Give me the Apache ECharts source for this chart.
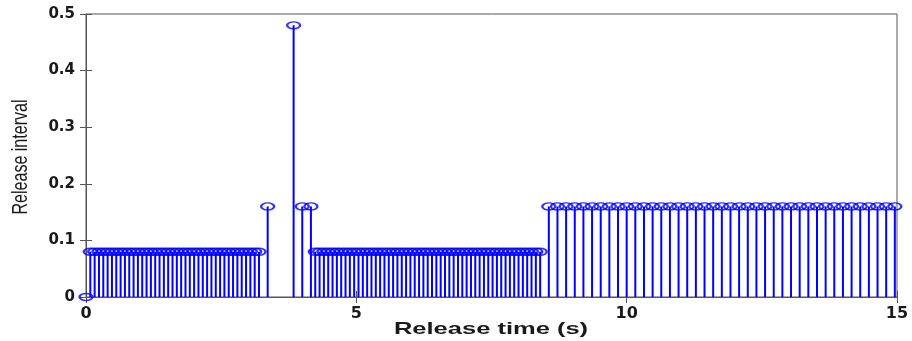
<!DOCTYPE html>
<html>
<head>
<meta charset="utf-8">
<script src="https://cdn.jsdelivr.net/npm/echarts@6/dist/echarts.min.js"></script>
<style>
  html, body { margin: 0; padding: 0; background: #fff; }
  #chart { width: 912px; height: 341px; }
</style>
</head>
<body>
<div id="chart"></div>
<script>
// release instants (s)
var releaseTime = [
  0,
  0.08, 0.16, 0.24, 0.32, 0.40, 0.48, 0.56, 0.64, 0.72, 0.80,
  0.88, 0.96, 1.04, 1.12, 1.20, 1.28, 1.36, 1.44, 1.52, 1.60,
  1.68, 1.76, 1.84, 1.92, 2.00, 2.08, 2.16, 2.24, 2.32, 2.40,
  2.48, 2.56, 2.64, 2.72, 2.80, 2.88, 2.96, 3.04, 3.12, 3.20,
  3.36, 3.84, 4.00, 4.16,
  4.24, 4.32, 4.40, 4.48, 4.56, 4.64, 4.72, 4.80, 4.88, 4.96,
  5.04, 5.12, 5.20, 5.28, 5.36, 5.44, 5.52, 5.60, 5.68, 5.76,
  5.84, 5.92, 6.00, 6.08, 6.16, 6.24, 6.32, 6.40, 6.48, 6.56,
  6.64, 6.72, 6.80, 6.88, 6.96, 7.04, 7.12, 7.20, 7.28, 7.36,
  7.44, 7.52, 7.60, 7.68, 7.76, 7.84, 7.92, 8.00, 8.08, 8.16,
  8.24, 8.32, 8.40,
  8.56, 8.72, 8.88, 9.04, 9.20, 9.36, 9.52, 9.68, 9.84, 10.00,
  10.16, 10.32, 10.48, 10.64, 10.80, 10.96, 11.12, 11.28, 11.44, 11.60,
  11.76, 11.92, 12.08, 12.24, 12.40, 12.56, 12.72, 12.88, 13.04, 13.20,
  13.36, 13.52, 13.68, 13.84, 14.00, 14.16, 14.32, 14.48, 14.64, 14.80,
  14.96
];

// interval to the previous release (s)
var releaseInterval = [
  0,
  0.08, 0.08, 0.08, 0.08, 0.08, 0.08, 0.08, 0.08, 0.08, 0.08,
  0.08, 0.08, 0.08, 0.08, 0.08, 0.08, 0.08, 0.08, 0.08, 0.08,
  0.08, 0.08, 0.08, 0.08, 0.08, 0.08, 0.08, 0.08, 0.08, 0.08,
  0.08, 0.08, 0.08, 0.08, 0.08, 0.08, 0.08, 0.08, 0.08, 0.08,
  0.16, 0.48, 0.16, 0.16,
  0.08, 0.08, 0.08, 0.08, 0.08, 0.08, 0.08, 0.08, 0.08, 0.08,
  0.08, 0.08, 0.08, 0.08, 0.08, 0.08, 0.08, 0.08, 0.08, 0.08,
  0.08, 0.08, 0.08, 0.08, 0.08, 0.08, 0.08, 0.08, 0.08, 0.08,
  0.08, 0.08, 0.08, 0.08, 0.08, 0.08, 0.08, 0.08, 0.08, 0.08,
  0.08, 0.08, 0.08, 0.08, 0.08, 0.08, 0.08, 0.08, 0.08, 0.08,
  0.08, 0.08, 0.08,
  0.16, 0.16, 0.16, 0.16, 0.16, 0.16, 0.16, 0.16, 0.16, 0.16,
  0.16, 0.16, 0.16, 0.16, 0.16, 0.16, 0.16, 0.16, 0.16, 0.16,
  0.16, 0.16, 0.16, 0.16, 0.16, 0.16, 0.16, 0.16, 0.16, 0.16,
  0.16, 0.16, 0.16, 0.16, 0.16, 0.16, 0.16, 0.16, 0.16, 0.16,
  0.16
];

var xTicks = [0, 5, 10, 15];
var yTicks = [0, 0.1, 0.2, 0.3, 0.4, 0.5];

var stemColor = '#0000ff';
var axisColor = '#555';
var textColor = '#1a1a1a';
var tickFont = 'DejaVu Sans';

var points = releaseTime.map(function (t, i) { return [t, releaseInterval[i]]; });

var chart = echarts.init(document.getElementById('chart'), null, { renderer: 'canvas' });

var hiddenAxis = {
  axisLine: { show: false },
  axisLabel: { show: false },
  splitLine: { show: false },
  axisTick: { show: true, inside: true, length: 6, lineStyle: { color: axisColor } }
};

chart.setOption({
  backgroundColor: '#fff',
  animation: false,
  grid: {
    left: 86, right: 15, top: 14, bottom: 44,
    outerBoundsMode: 'none',
    show: true, borderColor: axisColor, borderWidth: 1
  },
  // axis titles, squeezed/stretched like the original figure
  graphic: [
    {
      type: 'text', x: 21, y: 157, rotation: Math.PI / 2, scaleX: 0.73,
      style: {
        text: 'Release interval', font: '22px "Liberation Sans"',
        fill: textColor, align: 'center', verticalAlign: 'middle'
      }
    },
    {
      type: 'text', x: 491, y: 329, scaleX: 1.5,
      style: {
        text: 'Release time (s)', font: 'bold 17px "Liberation Sans"',
        fill: textColor, align: 'center', verticalAlign: 'middle'
      }
    }
  ],
  xAxis: [
    {
      type: 'value',
      min: xTicks[0], max: xTicks[xTicks.length - 1], interval: 5,
      axisLine: { show: true, lineStyle: { color: axisColor } },
      axisTick: { inside: true, length: 6, lineStyle: { color: axisColor } },
      axisLabel: { fontFamily: tickFont, fontWeight: 'bold', fontSize: 16, color: textColor, margin: 9 },
      splitLine: { show: false }
    },
    Object.assign({ type: 'value', position: 'top', min: 0, max: 15, interval: 5 }, hiddenAxis)
  ],
  yAxis: [
    {
      type: 'value',
      min: yTicks[0], max: yTicks[yTicks.length - 1], interval: 0.1,
      axisLine: { show: true, lineStyle: { color: axisColor } },
      axisTick: { inside: true, length: 6, lineStyle: { color: axisColor } },
      axisLabel: {
        fontFamily: tickFont, fontWeight: 'bold', fontSize: 15, color: textColor, margin: 11,
        formatter: function (v) { return v === 0 ? '0' : v.toFixed(1); }
      },
      splitLine: { show: false }
    },
    Object.assign({ type: 'value', position: 'right', min: 0, max: 0.5, interval: 0.1 }, hiddenAxis)
  ],
  series: [
    {
      type: 'custom',
      name: 'stem',
      data: points,
      encode: { x: 0, y: 1 },
      renderItem: function (params, api) {
        var base = api.coord([api.value(0), 0]);
        var tip = api.coord([api.value(0), api.value(1)]);
        return {
          type: 'line',
          shape: { x1: base[0], y1: base[1], x2: tip[0], y2: tip[1] },
          style: { stroke: stemColor, lineWidth: 2 }
        };
      },
      z: 2
    },
    {
      type: 'scatter',
      name: 'marker',
      data: points,
      symbol: 'circle',
      symbolSize: [13, 7],
      clip: false,
      itemStyle: { color: 'rgba(0,0,0,0)', borderColor: stemColor, borderWidth: 1.8 },
      z: 3
    }
  ]
});
</script>
</body>
</html>
